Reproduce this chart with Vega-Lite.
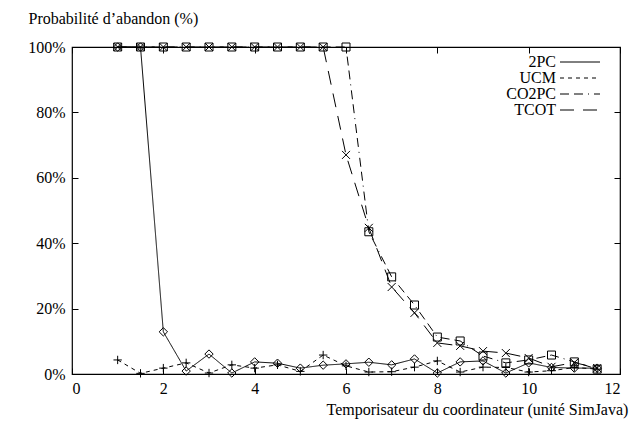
{
  "$schema": "https://vega.github.io/schema/vega-lite/v6.json",
  "width": 548,
  "height": 327,
  "autosize": {"type": "none"},
  "padding": {"left": 72, "top": 47, "right": 11, "bottom": 50},
  "background": "white",
  "config": {
    "font": "Liberation Serif",
    "view": {"stroke": "black", "strokeWidth": 1.2},
    "axis": {
      "labelColor": "black", "titleColor": "black", "tickColor": "black",
      "labelFont": "Liberation Serif", "titleFont": "Liberation Serif",
      "labelFontSize": 16, "titleFontSize": 16, "titleFontWeight": "normal",
      "grid": false, "domain": false
    }
  },
  "data": {
    "values": [
      {"proto": "2PC", "x": 1, "p": 100}, {"proto": "2PC", "x": 1.5, "p": 100}, {"proto": "2PC", "x": 2, "p": 12.9}, {"proto": "2PC", "x": 2.5, "p": 0.9},
      {"proto": "2PC", "x": 3, "p": 6.1}, {"proto": "2PC", "x": 3.5, "p": 0.3}, {"proto": "2PC", "x": 4, "p": 3.7}, {"proto": "2PC", "x": 4.5, "p": 3.3},
      {"proto": "2PC", "x": 5, "p": 1.8}, {"proto": "2PC", "x": 5.5, "p": 2.7}, {"proto": "2PC", "x": 6, "p": 3.1}, {"proto": "2PC", "x": 6.5, "p": 3.6},
      {"proto": "2PC", "x": 7, "p": 2.8}, {"proto": "2PC", "x": 7.5, "p": 4.6}, {"proto": "2PC", "x": 8, "p": 0.3}, {"proto": "2PC", "x": 8.5, "p": 3.7},
      {"proto": "2PC", "x": 9, "p": 4.0}, {"proto": "2PC", "x": 9.5, "p": 0.3}, {"proto": "2PC", "x": 10, "p": 3.4}, {"proto": "2PC", "x": 10.5, "p": 2.0},
      {"proto": "2PC", "x": 11, "p": 1.8}, {"proto": "2PC", "x": 11.5, "p": 1.8},
      {"proto": "UCM", "x": 1, "p": 4.3}, {"proto": "UCM", "x": 1.5, "p": 0.2}, {"proto": "UCM", "x": 2, "p": 1.8}, {"proto": "UCM", "x": 2.5, "p": 3.4},
      {"proto": "UCM", "x": 3, "p": 0.3}, {"proto": "UCM", "x": 3.5, "p": 2.8}, {"proto": "UCM", "x": 4, "p": 1.8}, {"proto": "UCM", "x": 4.5, "p": 2.8},
      {"proto": "UCM", "x": 5, "p": 0.8}, {"proto": "UCM", "x": 5.5, "p": 5.8}, {"proto": "UCM", "x": 6, "p": 2.5}, {"proto": "UCM", "x": 6.5, "p": 0.6},
      {"proto": "UCM", "x": 7, "p": 0.7}, {"proto": "UCM", "x": 7.5, "p": 2.1}, {"proto": "UCM", "x": 8, "p": 4.0}, {"proto": "UCM", "x": 8.5, "p": 0.6},
      {"proto": "UCM", "x": 9, "p": 2.1}, {"proto": "UCM", "x": 9.5, "p": 2.0}, {"proto": "UCM", "x": 10, "p": 0.6}, {"proto": "UCM", "x": 10.5, "p": 1.0},
      {"proto": "UCM", "x": 11, "p": 2.0}, {"proto": "UCM", "x": 11.5, "p": 1.5},
      {"proto": "CO2PC", "x": 1, "p": 100}, {"proto": "CO2PC", "x": 1.5, "p": 100}, {"proto": "CO2PC", "x": 2, "p": 100}, {"proto": "CO2PC", "x": 2.5, "p": 100},
      {"proto": "CO2PC", "x": 3, "p": 100}, {"proto": "CO2PC", "x": 3.5, "p": 100}, {"proto": "CO2PC", "x": 4, "p": 100}, {"proto": "CO2PC", "x": 4.5, "p": 100},
      {"proto": "CO2PC", "x": 5, "p": 100}, {"proto": "CO2PC", "x": 5.5, "p": 100}, {"proto": "CO2PC", "x": 6, "p": 100}, {"proto": "CO2PC", "x": 6.5, "p": 43.5},
      {"proto": "CO2PC", "x": 7, "p": 29.7}, {"proto": "CO2PC", "x": 7.5, "p": 21.1}, {"proto": "CO2PC", "x": 8, "p": 11.3}, {"proto": "CO2PC", "x": 8.5, "p": 10.1},
      {"proto": "CO2PC", "x": 9, "p": 5.5}, {"proto": "CO2PC", "x": 9.5, "p": 3.4}, {"proto": "CO2PC", "x": 10, "p": 4.3}, {"proto": "CO2PC", "x": 10.5, "p": 5.8},
      {"proto": "CO2PC", "x": 11, "p": 3.7}, {"proto": "CO2PC", "x": 11.5, "p": 1.5},
      {"proto": "TCOT", "x": 1, "p": 100}, {"proto": "TCOT", "x": 1.5, "p": 100}, {"proto": "TCOT", "x": 2, "p": 100}, {"proto": "TCOT", "x": 2.5, "p": 100},
      {"proto": "TCOT", "x": 3, "p": 100}, {"proto": "TCOT", "x": 3.5, "p": 100}, {"proto": "TCOT", "x": 4, "p": 100}, {"proto": "TCOT", "x": 4.5, "p": 100},
      {"proto": "TCOT", "x": 5, "p": 100}, {"proto": "TCOT", "x": 5.5, "p": 100}, {"proto": "TCOT", "x": 6, "p": 67}, {"proto": "TCOT", "x": 6.5, "p": 44.7},
      {"proto": "TCOT", "x": 7, "p": 26.6}, {"proto": "TCOT", "x": 7.5, "p": 18.7}, {"proto": "TCOT", "x": 8, "p": 9.5}, {"proto": "TCOT", "x": 8.5, "p": 8.6},
      {"proto": "TCOT", "x": 9, "p": 7.0}, {"proto": "TCOT", "x": 9.5, "p": 6.4}, {"proto": "TCOT", "x": 10, "p": 4.9}, {"proto": "TCOT", "x": 10.5, "p": 2.2},
      {"proto": "TCOT", "x": 11, "p": 3.5}, {"proto": "TCOT", "x": 11.5, "p": 1.8}
    ]
  },
  "resolve": {"axis": {"x": "independent", "y": "independent"}},
  "layer": [
    {
      "mark": {"type": "line", "stroke": "black", "strokeWidth": 1},
      "encoding": {
        "x": {"field": "x", "type": "quantitative", "scale": {"domain": [0, 12], "nice": false},
          "axis": {"orient": "bottom", "values": [0, 2, 4, 6, 8, 10, 12], "ticks": false, "labelPadding": 6,
            "title": "Temporisateur du coordinateur (unité SimJava)", "titleX": 254, "titleY": 40,
            "titleAlign": "left", "titleBaseline": "alphabetic"}},
        "y": {"field": "p", "type": "quantitative", "scale": {"domain": [0, 100], "nice": false},
          "axis": {"orient": "left", "values": [0, 20, 40, 60, 80, 100], "labelExpr": "datum.value + '%'", "ticks": false, "labelPadding": 7,
            "title": "Probabilité d’abandon (%)", "titleAngle": 0, "titleX": -44, "titleY": -24,
            "titleAlign": "left", "titleBaseline": "alphabetic"}},
        "detail": {"field": "proto"},
        "strokeDash": {"field": "proto", "type": "nominal",
          "scale": {"domain": ["2PC", "UCM", "CO2PC", "TCOT"], "range": [[1, 0], [4, 4], [9, 5, 9, 5, 1, 5], [14, 9]]},
          "legend": {"orient": "none", "legendX": 500, "legendY": 7, "title": null, "padding": 0,
            "symbolType": "M-4,0L4,0", "symbolSize": 100, "symbolStrokeWidth": 1, "symbolStrokeColor": "black",
            "labelAlign": "right", "labelOffset": -32, "labelFontSize": 16, "labelFont": "Liberation Serif", "labelColor": "black",
            "rowPadding": -7}}
      }
    },
    {
      "transform": [{"filter": "datum.proto === '2PC'"}],
      "mark": {"type": "point", "shape": "M0,-1L1,0L0,1L-1,0Z", "filled": false, "stroke": "black", "strokeWidth": 1, "size": 70, "opacity": 1},
      "encoding": {
        "x": {"field": "x", "type": "quantitative",
          "axis": {"orient": "bottom", "values": [0, 2, 4, 6, 8, 10, 12], "labels": false, "tickSize": -6, "title": null}},
        "y": {"field": "p", "type": "quantitative",
          "axis": {"orient": "left", "values": [0, 20, 40, 60, 80, 100], "labels": false, "tickSize": -6, "title": null}}
      }
    },
    {
      "transform": [{"filter": "datum.proto === 'UCM'"}],
      "mark": {"type": "point", "shape": "M-1,0L1,0M0,-1L0,1", "filled": false, "stroke": "black", "strokeWidth": 1, "size": 70, "opacity": 1},
      "encoding": {
        "x": {"field": "x", "type": "quantitative", "axis": null},
        "y": {"field": "p", "type": "quantitative", "axis": null}
      }
    },
    {
      "transform": [{"filter": "datum.proto === 'CO2PC'"}],
      "mark": {"type": "point", "shape": "M-1,-1L1,-1L1,1L-1,1Z", "filled": false, "stroke": "black", "strokeWidth": 1, "size": 64, "opacity": 1},
      "encoding": {
        "x": {"field": "x", "type": "quantitative", "axis": null},
        "y": {"field": "p", "type": "quantitative", "axis": null}
      }
    },
    {
      "transform": [{"filter": "datum.proto === 'TCOT'"}],
      "mark": {"type": "point", "shape": "M-1,-1L1,1M-1,1L1,-1", "filled": false, "stroke": "black", "strokeWidth": 1, "size": 64, "opacity": 1},
      "encoding": {
        "x": {"field": "x", "type": "quantitative", "axis": null},
        "y": {"field": "p", "type": "quantitative", "axis": null}
      }
    },
    {
      "mark": {"type": "point", "opacity": 0},
      "encoding": {
        "x": {"field": "x", "type": "quantitative",
          "axis": {"orient": "top", "values": [0, 2, 4, 6, 8, 10, 12], "labels": false, "tickSize": -6, "title": null}},
        "y": {"field": "p", "type": "quantitative",
          "axis": {"orient": "right", "values": [0, 20, 40, 60, 80, 100], "labels": false, "tickSize": -6, "title": null}}
      }
    }
  ]
}
